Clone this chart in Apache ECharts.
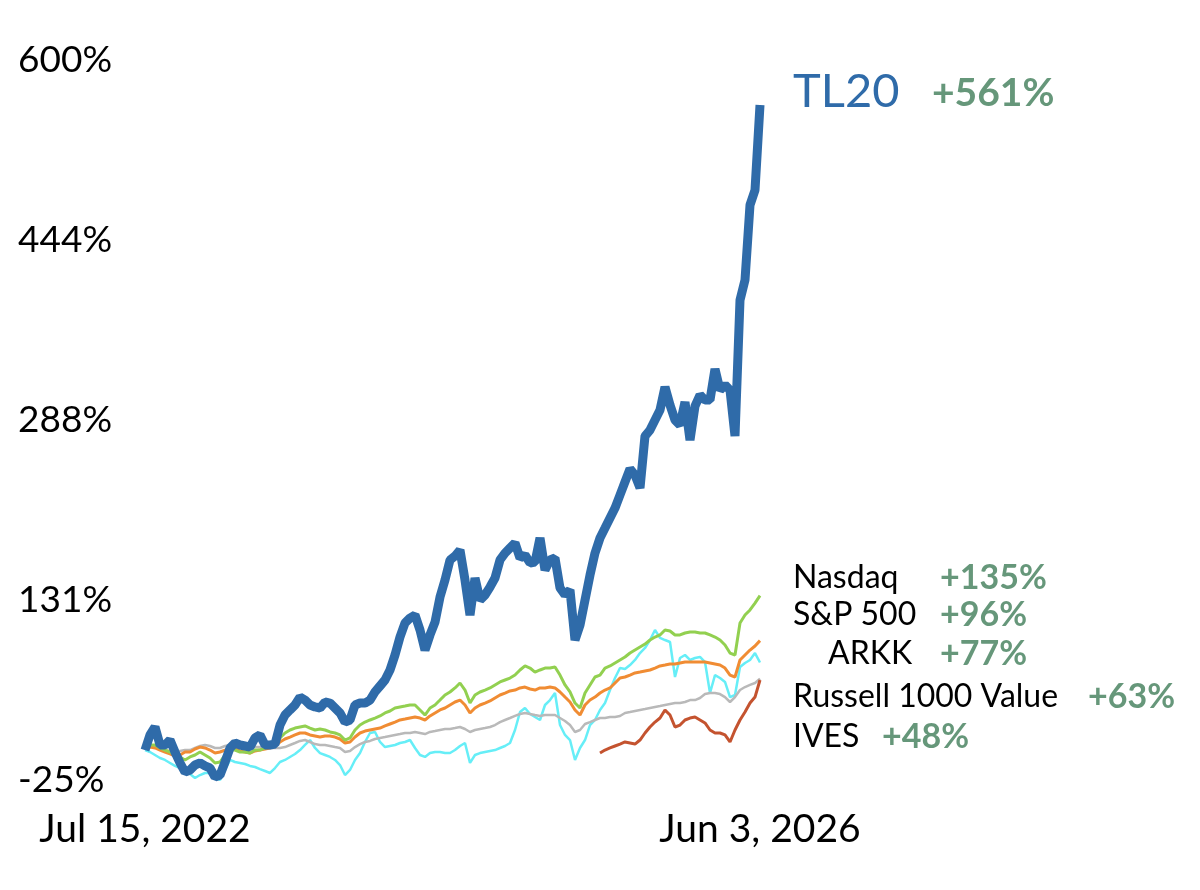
<!DOCTYPE html>
<html><head><meta charset="utf-8">
<script src="https://cdn.jsdelivr.net/npm/echarts@6/dist/echarts.min.js"></script>
<style>html,body{margin:0;padding:0;background:#fff}#c{width:1200px;height:890px}</style>
</head><body><div id="c"></div>
<script>
// ---- data (percent return since Jul 15, 2022), sampled evenly across the period ----
const dateLabels = ['Jul 15, 2022', 'Jun 3, 2026'];
const yMin = -25, yMax = 600, yStep = 156.25;

const tl20 = [
  1.0, 14.1, 21.0, 5.4, 5.4, 9.7, -0.7, -10.2, -18.1, -16.3,
  -12.0, -10.2, -12.8, -14.6, -22.4, -20.7, -9.4, 2.8, 7.1, 5.4,
  4.5, 3.6, 11.5, 14.1, 5.4, 5.4, 6.2, 22.7, 31.4, 35.8,
  40.1, 47.0, 44.4, 40.1, 38.4, 37.5, 42.7, 41.8, 37.5, 33.2,
  25.3, 27.1, 40.1, 41.8, 41.8, 44.4, 51.4, 56.6, 61.8, 70.5,
  83.5, 99.1, 111.3, 115.6, 118.2, 105.2, 87.8, 100.9, 112.1, 133.8,
  148.6, 166.0, 169.4, 174.6, 148.6, 118.2, 150.3, 131.2, 135.6, 142.5,
  150.3, 166.0, 172.0, 176.4, 180.7, 167.7, 170.3, 163.4, 164.2, 185.1,
  157.3, 166.0, 167.7, 141.7, 135.6, 139.9, 96.5, 109.5, 131.2, 152.9,
  172.0, 185.1, 193.7, 202.4, 211.1, 222.4, 233.7, 245.0, 239.7, 228.5,
  273.6, 278.8, 287.5, 296.2, 316.1, 300.5, 287.5, 283.1, 303.1, 270.1,
  299.6, 309.2, 304.8, 304.8, 331.8, 313.5, 317.9, 313.5, 273.6, 391.6,
  409.0, 474.1, 487.1, 561
];
const nasdaq = [
  2.8, 5.4, 5.4, 2.8, 1.0, -0.7, -3.3, -5.0, -7.6, -5.0,
  -3.3, -0.7, -3.3, -5.9, -10.2, -9.4, -3.3, 1.0, 1.0, -0.7,
  -0.7, -1.6, 1.0, 1.0, 2.8, 3.6, 5.4, 11.5, 15.8, 18.4,
  20.1, 21.0, 21.9, 20.1, 18.4, 19.3, 18.4, 16.7, 15.8, 14.1,
  9.7, 11.5, 18.4, 22.7, 25.3, 27.1, 28.8, 30.6, 33.2, 34.9,
  37.5, 38.4, 39.2, 40.1, 40.1, 35.8, 31.4, 37.5, 40.1, 44.4,
  48.8, 51.4, 54.9, 59.2, 53.1, 41.8, 48.8, 51.4, 53.1, 54.9,
  57.5, 60.1, 61.8, 63.5, 66.1, 70.5, 74.0, 72.2, 68.7, 70.5,
  72.2, 72.2, 73.1, 66.1, 57.5, 51.4, 41.8, 37.5, 50.5, 57.5,
  64.4, 66.1, 72.2, 74.0, 76.6, 79.2, 81.8, 85.2, 87.8, 90.4,
  93.0, 96.5, 99.1, 100.9, 105.2, 104.3, 100.9, 100.9, 102.6, 103.5,
  103.5, 102.6, 102.6, 100.9, 99.1, 96.5, 92.2, 85.2, 83.5, 111.3,
  118.2, 122.6, 128.6, 135
];
const sp500 = [
  2.8, 3.6, 2.8, 1.0, -0.7, -2.4, -4.2, -3.3, -0.7, -0.7,
  1.9, 3.6, 2.8, 1.0, -1.6, -0.7, 1.0, 2.8, 1.9, 0.2,
  -0.7, -1.6, 0.2, 1.0, 1.9, 2.8, 4.5, 8.0, 10.6, 12.3,
  14.1, 15.8, 15.8, 14.1, 13.2, 12.3, 13.2, 13.2, 12.3, 10.6,
  7.1, 8.0, 12.3, 15.8, 17.5, 18.4, 19.3, 20.1, 21.9, 23.6,
  25.3, 27.1, 27.9, 28.8, 29.7, 28.8, 27.1, 30.6, 33.2, 35.8,
  37.5, 40.1, 42.7, 44.4, 40.1, 33.2, 37.5, 40.1, 41.8, 43.6,
  46.2, 48.8, 50.5, 52.3, 53.1, 54.9, 55.7, 54.0, 53.1, 54.9,
  54.9, 55.7, 54.9, 51.4, 47.0, 42.7, 35.8, 31.4, 40.1, 44.4,
  47.0, 50.5, 53.1, 54.9, 59.2, 63.5, 64.4, 66.1, 67.9, 68.7,
  69.6, 70.5, 72.2, 74.0, 74.8, 75.7, 75.7, 76.6, 77.4, 77.4,
  77.4, 77.4, 77.4, 76.6, 75.7, 74.8, 72.2, 66.1, 64.4, 79.2,
  83.5, 87.8, 91.3, 96
];
const arkk = [
  1.0, -0.7, -3.3, -5.9, -7.6, -10.2, -12.8, -14.6, -17.2, -19.8,
  -23.3, -20.7, -18.9, -18.9, -22.4, -25.0, -16.3, -7.6, -9.4, -10.2,
  -11.1, -12.8, -13.7, -15.5, -17.2, -18.9, -14.6, -9.4, -7.6, -5.0,
  -2.4, 1.0, 5.4, 9.7, 2.8, -1.6, -3.3, -5.0, -7.6, -12.0,
  -20.7, -16.3, -7.6, -1.6, 8.0, 15.8, 16.7, 8.0, 3.6, 4.5,
  5.4, 7.1, 8.0, 9.7, 2.8, -3.3, -5.0, -1.6, -0.7, -0.7,
  -1.6, -1.6, 1.0, 4.5, 7.1, -10.2, -3.3, -1.6, -0.7, 0.2,
  1.0, 2.8, 4.5, 7.1, 18.4, 34.0, 37.5, 32.3, 29.7, 27.1,
  40.1, 44.4, 50.5, 22.7, 14.1, 9.7, -7.6, 2.8, 9.7, 22.7,
  27.1, 35.8, 41.8, 53.1, 63.5, 72.2, 71.3, 74.8, 79.2, 85.2,
  89.6, 96.5, 105.2, 98.3, 96.5, 94.8, 64.4, 80.9, 83.5, 79.2,
  80.9, 81.8, 77.4, 50.5, 66.1, 63.5, 60.1, 47.0, 48.8, 73.1,
  76.6, 79.2, 85.2, 77
];
const russell1000Value = [
  2.8, 4.5, 3.6, 1.9, 1.0, 0.2, -0.7, 0.2, 1.0, 1.0,
  2.8, 4.5, 5.4, 4.5, 2.8, 2.8, 4.5, 5.4, 5.4, 4.5,
  3.6, 3.6, 3.6, 3.6, 3.6, 2.8, 2.8, 2.8, 3.6, 5.4,
  7.1, 8.9, 9.7, 8.0, 6.2, 5.4, 5.4, 4.5, 3.6, 2.8,
  -0.7, 0.2, 3.6, 6.2, 8.0, 8.9, 10.6, 11.5, 12.3, 13.2,
  14.1, 14.9, 15.8, 15.8, 16.7, 15.8, 14.9, 16.7, 17.5, 18.4,
  19.3, 19.3, 20.1, 21.0, 19.3, 16.7, 18.4, 19.3, 20.1, 21.0,
  22.7, 25.3, 27.1, 28.8, 30.6, 32.3, 33.2, 32.3, 31.4, 30.6,
  31.4, 31.4, 31.4, 28.8, 26.2, 22.7, 16.7, 18.4, 23.6, 25.3,
  27.1, 28.8, 28.8, 29.7, 29.7, 30.6, 33.2, 34.0, 34.9, 35.8,
  36.6, 37.5, 38.4, 39.2, 40.1, 41.0, 41.8, 41.8, 42.7, 44.4,
  44.4, 46.2, 49.6, 50.5, 50.5, 49.6, 47.0, 42.7, 47.0, 53.1,
  55.7, 57.5, 59.2, 63
];
// IVES starts later in the period
const ivesStartIndex = 91;
const ives = [
  -1.6, 1.0, 2.8, 4.5, 6.2, 8.0, 7.1, 6.2, 9.7, 15.8,
  21.0, 25.3, 28.8, 35.8, 31.4, 21.0, 22.7, 27.1, 28.8, 29.7,
  27.1, 24.5, 18.4, 15.8, 15.8, 14.1, 8.0, 18.4, 27.1, 34.0,
  41.8, 47.0, 61.8
];

const names = ['TL20', 'Nasdaq', 'S&P 500', 'ARKK', 'Russell 1000 Value', 'IVES'];
const changes = ['+561%', '+135%', '+96%', '+77%', '+63%', '+48%'];

// ---- chart ----
const N = tl20.length;
const categories = Array.from({length: N}, (_, i) => i);
const ivesFull = categories.map(i => (i < ivesStartIndex ? null : ives[i - ivesStartIndex]));

const FONT = 'Lato, "Noto Sans", sans-serif';
const GREEN_TXT = '#66977a';

function line(name, data, color, width, z) {
  return {
    name, type: 'line', data, showSymbol: false, symbol: 'none', clip: false,
    connectNulls: false, z,
    lineStyle: {color, width, join: 'bevel'}, itemStyle: {color},
    emphasis: {disabled: true}
  };
}

function txt(text, x, y, size, color, weight) {
  return {
    type: 'text', x, y, silent: true,
    style: {text, fill: color, font: `${weight || 'normal'} ${size}px ${FONT}`,
            textAlign: 'left', textVerticalAlign: 'middle'}
  };
}

const chart = echarts.init(document.getElementById('c'), null, {renderer: 'canvas'});
chart.setOption({
  animation: false,
  backgroundColor: '#ffffff',
  grid: {left: 145, right: 440, top: 60, bottom: 110},
  xAxis: {
    type: 'category', data: categories, boundaryGap: false,
    axisLine: {show: false}, axisTick: {show: false}, splitLine: {show: false},
    axisLabel: {
      interval: 0, margin: 30, fontSize: 39, color: '#000', fontFamily: FONT,
      showMinLabel: true, showMaxLabel: true,
      formatter: (v, i) => (i === 0 ? dateLabels[0] : (i === N - 1 ? dateLabels[1] : ''))
    }
  },
  yAxis: {
    type: 'value', min: yMin, max: yMax, interval: yStep,
    axisLine: {show: false}, axisTick: {show: false}, splitLine: {show: false},
    axisLabel: {
      align: 'left', margin: 127, fontSize: 37, color: '#000', fontFamily: FONT,
      formatter: v => Math.round(v) + '%'
    }
  },
  series: [
    line(names[3], arkk, '#66eef7', 2.5, 1),
    line(names[4], russell1000Value, '#b9b9b9', 2.5, 2),
    line(names[5], ivesFull, '#c4532f', 3, 3),
    line(names[2], sp500, '#f08c33', 3, 4),
    line(names[1], nasdaq, '#92d050', 3, 5),
    line(names[0], tl20, '#2f6ba9', 9, 6)
  ],
  graphic: [
    txt(names[0], 793, 92, 47, '#2f6ba9', 'normal'),
    txt(changes[0], 932, 93, 39, GREEN_TXT, 'bold'),
    txt(names[1], 793, 578, 32, '#000', 'normal'),
    txt(changes[1], 940, 578, 34, GREEN_TXT, 'bold'),
    txt(names[2], 793, 615, 32, '#000', 'normal'),
    txt(changes[2], 940, 615, 34, GREEN_TXT, 'bold'),
    txt(names[3], 828, 654, 32, '#000', 'normal'),
    txt(changes[3], 940, 654, 34, GREEN_TXT, 'bold'),
    txt(names[4], 793, 697, 32, '#000', 'normal'),
    txt(changes[4], 1088, 697, 34, GREEN_TXT, 'bold'),
    txt(names[5], 793, 737, 32, '#000', 'normal'),
    txt(changes[5], 882, 737, 34, GREEN_TXT, 'bold')
  ]
});
</script>
</body></html>
